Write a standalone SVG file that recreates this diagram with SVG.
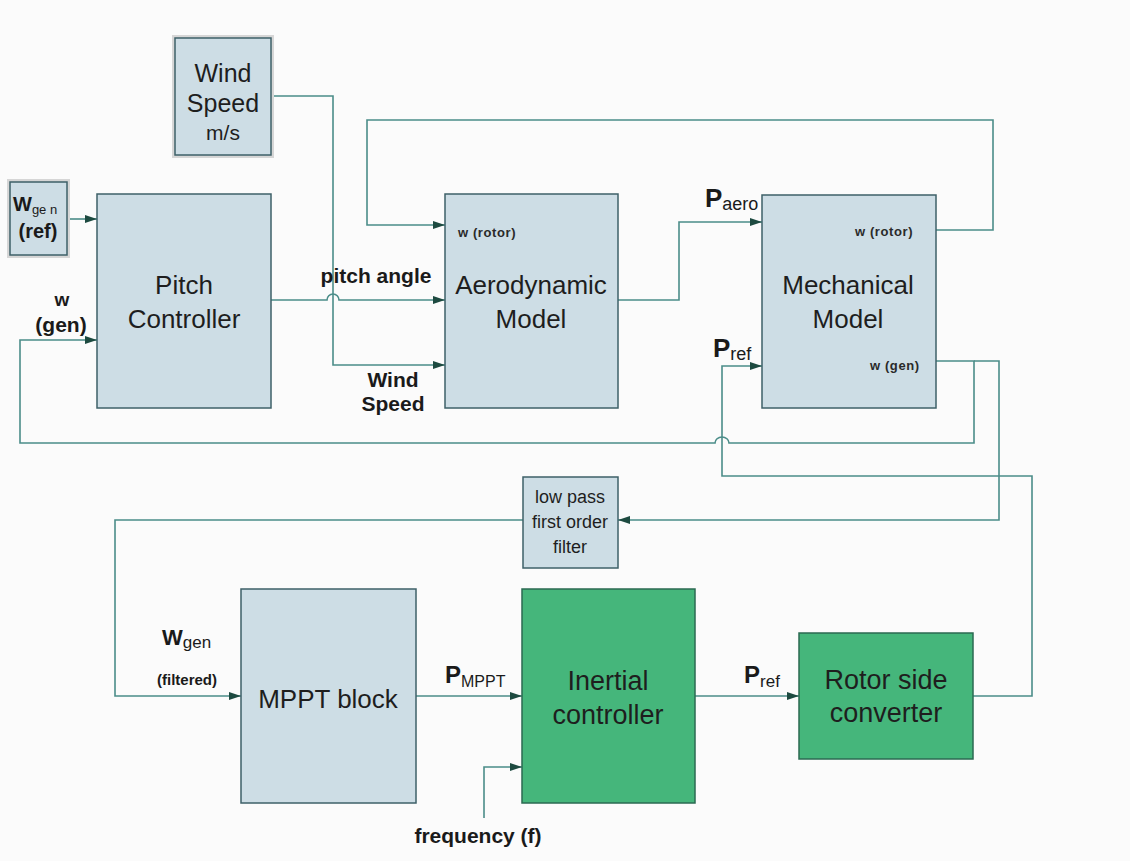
<svg xmlns="http://www.w3.org/2000/svg" width="1130" height="861" viewBox="0 0 1130 861">
<defs>
<marker id="ah" viewBox="0 0 12 10" refX="12" refY="5" markerWidth="12" markerHeight="10" markerUnits="userSpaceOnUse" orient="auto">
<path d="M0,1 L12,5 L0,9 z" fill="#1d4a40"/>
</marker>
</defs>
<style>
.box{fill:#cddde5;stroke:#3e6068;stroke-width:1.5}
.gbox{fill:#45b67b;stroke:#2b6a52;stroke-width:1.5}
.halo{fill:none;stroke:#d6d6d6;stroke-width:6}
.c{fill:none;stroke:#4b8d89;stroke-width:1.6}
.a{marker-end:url(#ah)}
.t{font-family:"Liberation Sans",Arial,sans-serif;fill:#1e1e1e;text-anchor:middle;font-size:26px}
.g{font-size:27px}
.lb{font-family:"Liberation Sans",Arial,sans-serif;font-weight:bold;fill:#1a1a1a}
.sm{font-family:"Liberation Sans",Arial,sans-serif;font-weight:bold;fill:#2a2a2a;font-size:13px;letter-spacing:0.6px}
.sub{font-weight:normal}
</style>
<rect width="1130" height="861" fill="#fbfbfb"/>

<g id="connectors">
<path class="c a" d="M67,219 H97"/>
<path class="c a" d="M936,361 H974 V443 H729 A7,6 0 0 0 715,443 H20 V340 H97"/>
<path class="c a" d="M974,361 H999 V520 H618"/>
<path class="c a" d="M523,520 H115 V696 H241"/>
<path class="c a" d="M271,96 H333 V365 H445"/>
<path class="c a" d="M271,300 H327 A6,6 0 0 1 339,300 H445"/>
<path class="c a" d="M936,230 H993 V120 H367 V225 H445"/>
<path class="c a" d="M618,300 H679 V222 H762"/>
<path class="c a" d="M973,696 H1032 V476 H722 V366 H762"/>
<path class="c a" d="M416,696 H522"/>
<path class="c a" d="M695,696 H799"/>
<path class="c a" d="M484,818 V767 H522"/>
</g>

<g id="wind-speed">
<rect class="halo" x="175" y="38" width="96" height="117"/>
<rect class="box" x="175" y="38" width="96" height="117"/>
<text class="t" x="223" y="82" style="font-size:25px">Wind</text>
<text class="t" x="223" y="112" style="font-size:25px">Speed</text>
<text class="t" x="223" y="140" style="font-size:21px">m/s</text>
</g>

<g id="wgen-ref">
<rect class="halo" x="10" y="182" width="57" height="73"/>
<rect class="box" x="10" y="182" width="57" height="73"/>
<text class="lb" x="13" y="211" style="font-size:20px">W<tspan class="sub" style="font-size:13px" dy="3">ge n</tspan></text>
<text class="lb" x="38" y="238" style="font-size:20px;text-anchor:middle">(ref)</text>
</g>

<g id="pitch-controller">
<rect class="box" x="97" y="194" width="174" height="214"/>
<text class="t" x="184" y="294">Pitch</text>
<text class="t" x="184" y="328">Controller</text>
</g>

<g id="aerodynamic-model">
<rect class="box" x="445" y="194" width="173" height="214"/>
<text class="sm" x="458" y="237">w (rotor)</text>
<text class="t" x="531" y="294">Aerodynamic</text>
<text class="t" x="531" y="328">Model</text>
</g>

<g id="mechanical-model">
<rect class="box" x="762" y="195" width="174" height="213"/>
<text class="sm" x="855" y="236">w (rotor)</text>
<text class="t" x="848" y="294">Mechanical</text>
<text class="t" x="848" y="328">Model</text>
<text class="sm" x="870" y="370">w (gen)</text>
</g>

<g id="low-pass-filter">
<rect class="box" x="523" y="477" width="95" height="91"/>
<text class="t" x="570" y="503" style="font-size:18px">low pass</text>
<text class="t" x="570" y="528" style="font-size:18px">first order</text>
<text class="t" x="570" y="553" style="font-size:18px">filter</text>
</g>

<g id="mppt-block">
<rect class="box" x="241" y="589" width="175" height="214"/>
<text class="t" x="328" y="708">MPPT block</text>
</g>

<g id="inertial-controller">
<rect class="gbox" x="522" y="589" width="173" height="214"/>
<text class="t g" x="608" y="690">Inertial</text>
<text class="t g" x="608" y="724">controller</text>
</g>

<g id="rotor-side-converter">
<rect class="gbox" x="799" y="633" width="174" height="126"/>
<text class="t g" x="886" y="689">Rotor side</text>
<text class="t g" x="886" y="722">converter</text>
</g>

<g id="labels">
<text class="lb" x="62" y="306" style="font-size:19px;text-anchor:middle">w</text>
<text class="lb" x="61" y="332" style="font-size:21px;text-anchor:middle">(gen)</text>
<text class="lb" x="376" y="283" style="font-size:21px;text-anchor:middle">pitch angle</text>
<text class="lb" x="393" y="387" style="font-size:21px;text-anchor:middle">Wind</text>
<text class="lb" x="393" y="411" style="font-size:21px;text-anchor:middle">Speed</text>
<text class="lb" x="705" y="207" style="font-size:26px">P<tspan class="sub" style="font-size:18px" dy="3">aero</tspan></text>
<text class="lb" x="713" y="357" style="font-size:26px">P<tspan class="sub" style="font-size:18px" dy="3">ref</tspan></text>
<text class="lb" x="162" y="645" style="font-size:22px">W<tspan class="sub" style="font-size:17px" dy="3">gen</tspan></text>
<text class="lb" x="187" y="685" style="font-size:15px;text-anchor:middle">(filtered)</text>
<text class="lb" x="445" y="683" style="font-size:24px">P<tspan class="sub" style="font-size:16px" dy="4">MPPT</tspan></text>
<text class="lb" x="744" y="683" style="font-size:24px">P<tspan class="sub" style="font-size:17px" dy="4">ref</tspan></text>
<text class="lb" x="478" y="843" style="font-size:21px;text-anchor:middle">frequency (f)</text>
</g>
</svg>
